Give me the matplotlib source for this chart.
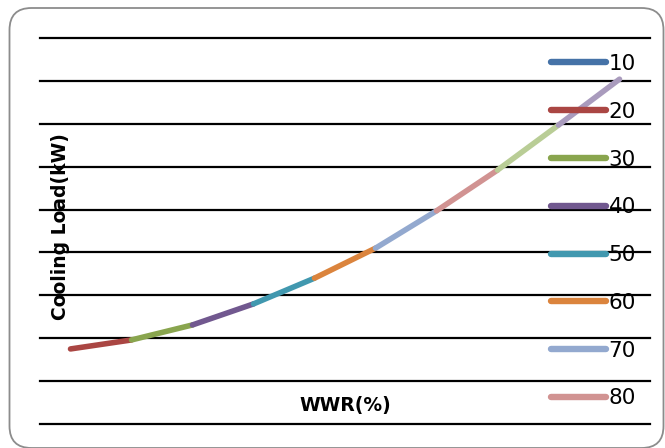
import matplotlib
matplotlib.use('Agg')
import matplotlib.pyplot as plt
from matplotlib.patches import FancyBboxPatch
import numpy as np

# window-to-wall ratio categories and cooling load at each step
wwr = [10, 20, 30, 40, 50, 60, 70, 80, 90, 100]
cooling_load = [17.5, 19.6, 23.1, 28.0, 34.0, 41.0, 49.7, 59.2, 69.7, 80.4]
colors = ['#4572a7', '#aa4643', '#89a54e', '#71588f', '#4198af',
          '#db843d', '#93a9cf', '#d19392', '#b9cd96', '#a99bbd']
# entries that fit in the legend column
legend_count = 8


def plot():
    fig = plt.figure(figsize=(6.65, 4.48), dpi=100)
    plt.rcParams['font.family'] = ['DejaVu Sans']

    # rounded chart border
    W, H = 665.0, 448.0
    frame = FancyBboxPatch((9.5 / W, 0.0 / H), 654 / W, 440 / H,
                           boxstyle='round,pad=0,rounding_size=0.033',
                           transform=fig.transFigure, fill=False,
                           edgecolor='#8c8c8c', linewidth=1.3,
                           mutation_aspect=W / H)
    fig.patches.append(frame)

    ax = fig.add_axes([40 / W, 1 - 424 / H, 610 / W, 386 / H])
    ax.set_facecolor('none')
    for s in ax.spines.values():
        s.set_visible(False)

    x = np.arange(len(wwr)) + 0.5
    handles = []
    # each WWR series spans from the previous category to its own
    for i, w in enumerate(wwr):
        lo = max(i - 1, 0)
        ln, = ax.plot(x[lo:i + 1], cooling_load[lo:i + 1], color=colors[i],
                      linewidth=4.0, solid_capstyle='round', label=str(w),
                      zorder=3)
        handles.append(ln)

    ax.set_xlim(0, len(wwr))
    ax.set_ylim(0, 90)
    ax.set_yticks(np.arange(0, 91, 10))
    ax.yaxis.grid(True, color='black', linewidth=1.6)
    for g in ax.get_ygridlines():
        g.set_clip_on(False)
    ax.set_axisbelow(True)
    ax.tick_params(left=False, bottom=False, labelleft=False, labelbottom=False)
    ax.set_xticks([])

    ax.text(0.5, 19 / 386, 'WWR(%)', transform=ax.transAxes, ha='center',
            va='center', fontsize=13.5, fontweight='bold')
    fig.text(61 / W, 1 - 227 / H, 'Cooling Load(kW)', rotation=90,
             ha='center', va='center', fontsize=13.5, fontweight='bold')

    leg = ax.legend(handles[:legend_count], [str(w) for w in wwr[:legend_count]],
                    loc='upper left', bbox_to_anchor=(551 / W, 1 - 54 / H),
                    bbox_transform=fig.transFigure, frameon=False,
                    fontsize=15.5, handlelength=2.55, handletextpad=0.12,
                    labelspacing=1.29, borderpad=0, borderaxespad=0)
    for line in leg.get_lines():
        line.set_linewidth(4.6)
        line.set_solid_capstyle('round')
    leg.set_zorder(5)

    plt.savefig('out.png', dpi=100)


if __name__ == '__main__':
    plot()
